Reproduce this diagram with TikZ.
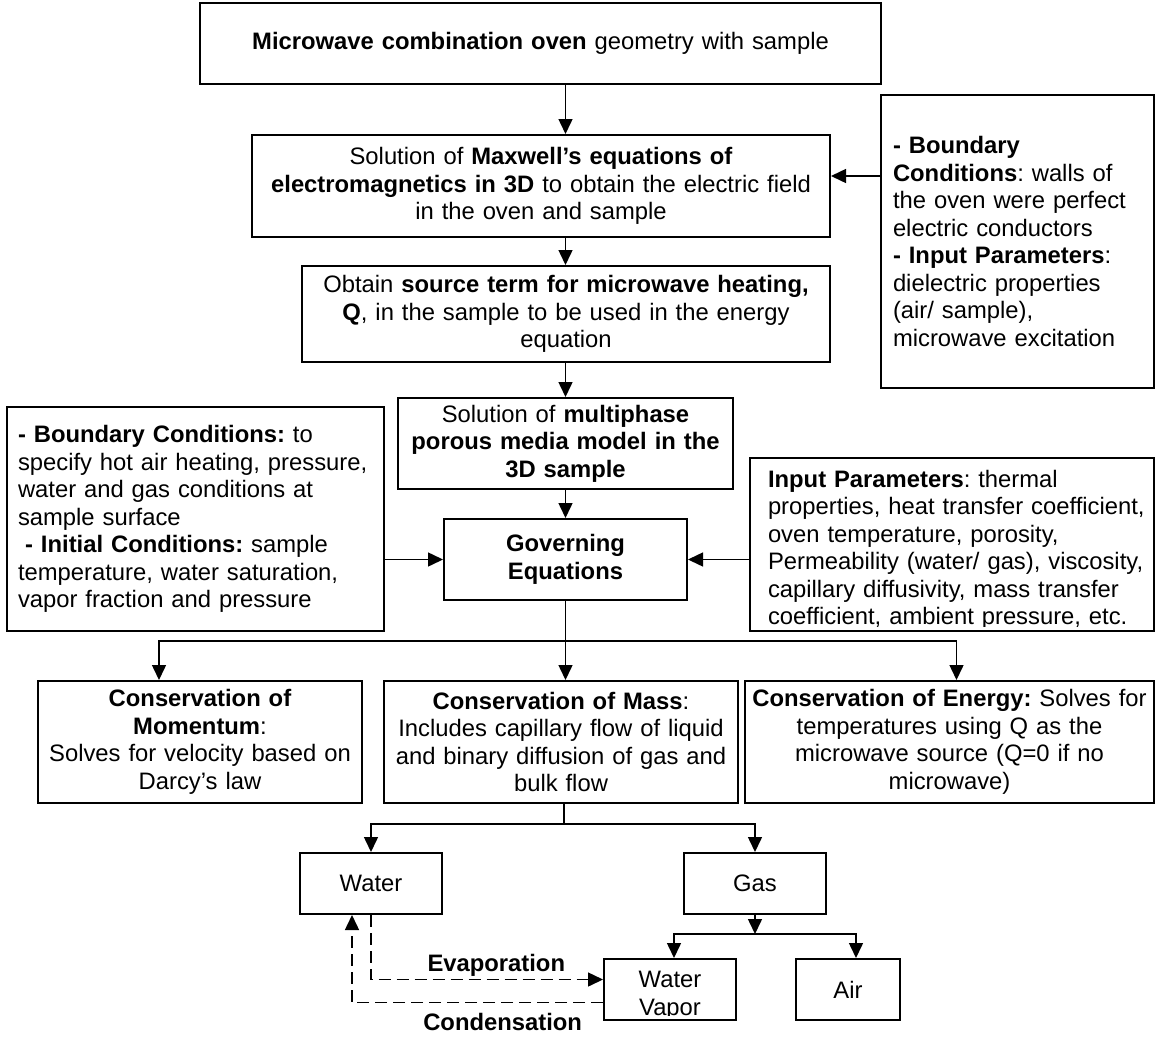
\documentclass[tikz,border=0pt]{standalone}
\usepackage{fontspec}
\setmainfont{Liberation Sans}
\frenchspacing
\usetikzlibrary{arrows.meta,calc}
\newcommand{\boxfont}{\fontsize{23.8}{27.5}\selectfont}
\tikzstyle{stage}=[draw=black, line width=2pt, align=center, inner sep=0pt, font=\boxfont]
\tikzstyle{sidenote}=[draw=black, line width=2pt, align=left, inner ysep=0pt, font=\boxfont]
\tikzstyle{sidetext}=[align=left, inner sep=0pt, font=\boxfont]
\tikzstyle{arr}=[-{Triangle[width=14pt,length=15pt]}, line width=1.5pt]
\tikzstyle{phasearr}=[arr, dash pattern=on 12pt off 6pt]
\tikzstyle{phaselbl}=[inner sep=2pt, font=\boxfont\bfseries]

\begin{document}
\begin{tikzpicture}[x=1pt,y=-1pt]
\useasboundingbox (0,0) rectangle (1156,1036);
% main chain
\node[stage, minimum width=681pt, minimum height=81pt, text width=660pt] (oven) at (540.5,43.5) {\textbf{Microwave combination oven} geometry with sample};
\node[stage, minimum width=578pt, minimum height=102pt, text width=560pt] (maxwell) at (541,186) {Solution of \textbf{Maxwell’s equations of}\\\textbf{electromagnetics in 3D} to obtain the electric field\\in the oven and sample};
\node[stage, minimum width=528pt, minimum height=96pt, text width=515pt] (source) at (566,314) {Obtain \textbf{source term for microwave heating,}\\\textbf{Q}, in the sample to be used in the energy\\equation};
\node[sidenote, minimum width=273pt, minimum height=293pt, inner xsep=12pt, text width=249pt] (rbc) at (1017.5,241.5) {\textbf{- Boundary}\\\textbf{Conditions}: walls of\\the oven were perfect\\electric conductors\\\textbf{- Input Parameters}:\\dielectric properties\\(air/ sample),\\microwave excitation};
\node[stage, minimum width=335pt, minimum height=91pt, text width=325pt] (multi) at (565.5,443.5) {Solution of \textbf{multiphase}\\\textbf{porous media model in the}\\\textbf{3D sample}};
\node[stage, minimum width=243pt, minimum height=81pt, text width=220pt] (gov) at (565.5,559.5) {\textbf{Governing}\\\textbf{Equations}};
\node[sidenote, minimum width=377pt, minimum height=224pt, inner xsep=11pt, text width=355pt] (lbc) at (195.5,519) {\textbf{- Boundary Conditions:} to\\specify hot air heating, pressure,\\water and gas conditions at\\sample surface\\\hspace{0.3em}\textbf{- Initial Conditions:} sample\\temperature, water saturation,\\vapor fraction and pressure};
\node[stage, minimum width=404pt, minimum height=173pt] (inpar) at (952,544.5) {};
\begin{scope}
\clip ([yshift=6pt]inpar.south west) rectangle (inpar.north east);
\node[sidetext, text width=390pt] (inpartext) at (963,550) {\textbf{Input Parameters}: thermal\\properties, heat transfer coefficient,\\oven temperature, porosity,\\Permeability (water/ gas), viscosity,\\capillary diffusivity, mass transfer\\coefficient, ambient pressure, etc.};
\end{scope}
% conservation laws
\node[stage, minimum width=324pt, minimum height=122pt, text width=315pt] (mom) at (200,742) {\textbf{Conservation of}\\\textbf{Momentum}:\\Solves for velocity based on\\Darcy’s law};
\node[stage, minimum width=354pt, minimum height=122pt, text width=345pt] (mass) at (561,742) {\textbf{Conservation of Mass}:\\Includes capillary flow of liquid\\and binary diffusion of gas and\\bulk flow};
\node[stage, minimum width=409pt, minimum height=122pt, text width=405pt] (energy) at (949.5,742) {\textbf{Conservation of Energy:} Solves for\\temperatures using Q as the\\microwave source (Q=0 if no\\microwave)};
% phases
\node[stage, minimum width=142pt, minimum height=61pt] (water) at (371,883.5) {Water};
\node[stage, minimum width=142pt, minimum height=61pt] (gas) at (755,883.5) {Gas};
\node[stage, minimum width=132pt, minimum height=61pt] (vapor) at (670,989.5) {};
\begin{scope}
\clip ([yshift=6pt]vapor.south west) rectangle (vapor.north east);
\node[sidetext, align=center] (vaportext) at (670,996) {Water\\Vapor};
\end{scope}
\node[stage, minimum width=104pt, minimum height=61pt] (air) at (848,989.5) {Air};
% connectors
\draw[arr] (oven.south -| gov) -- (maxwell.north -| gov);
\draw[arr] (maxwell.south -| gov) -- (source.north -| gov);
\draw[arr] (source.south -| gov) -- (multi.north -| gov);
\draw[arr] (multi.south) -- (gov.north);
\coordinate (mxin) at ([yshift=10pt]maxwell.east);
\draw[arr] (rbc.west |- mxin) -- (mxin);
\draw[arr] (lbc.east |- gov) -- (gov.west);
\draw[arr] (inpar.west |- gov) -- (gov.east);
\coordinate (gj) at ($(gov.south)+(0,40)$);
\draw[line width=1.5pt] (gov.south) -- (gj);
\draw[arr] (gj) -| ([xshift=-41pt]mom.north);
\draw[arr] (gj) -- (gov.south |- mass.north);
\draw[arr] (gj) -| ([xshift=7pt]energy.north);
\coordinate (mj) at ($(mass.south)+(3,20)$);
\draw[line width=1.5pt] (mass.south -| mj) -- (mj);
\draw[arr] (mj) -| (water.north);
\draw[arr] (mj) -| (gas.north);
\coordinate (gsj) at ($(gas.south)+(0,19)$);
\draw[arr] (gas.south) -- (gsj);
\draw[arr] (gsj) -| ([xshift=4pt]vapor.north);
\draw[arr] (gsj) -| ([xshift=8pt]air.north);
\draw[phasearr] (water.south) |- node[phaselbl, pos=0.77, above] (evap) {Evaporation} ([yshift=10pt]vapor.west);
\draw[phasearr] ([yshift=-13pt]vapor.west) -| node[phaselbl, pos=0.2, below, yshift=-8pt] (cond) {Condensation} ([xshift=-19pt]water.south);
\end{tikzpicture}
\end{document}
